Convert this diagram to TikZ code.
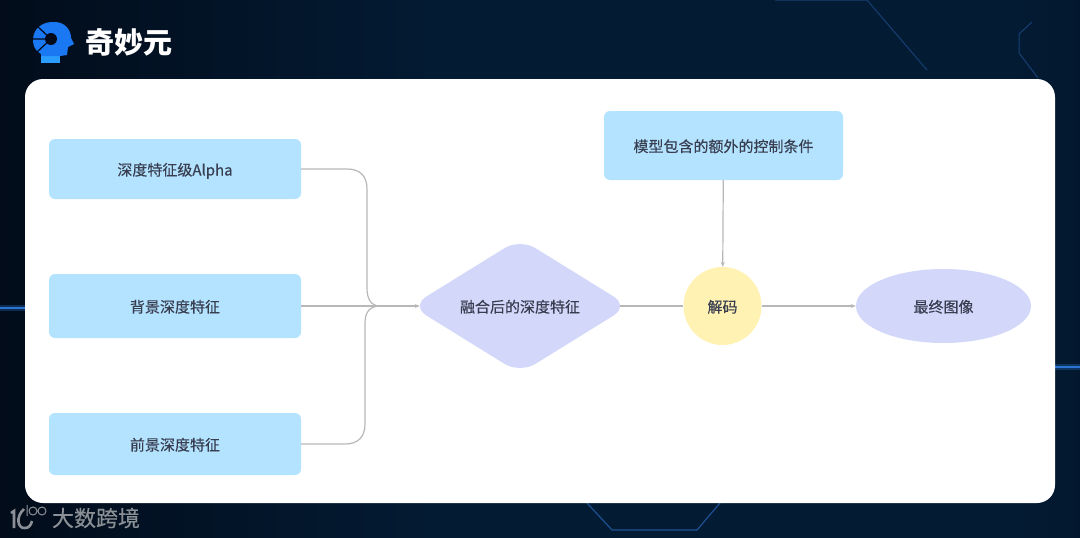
\documentclass[tikz,border=0pt]{standalone}
\usepackage{fontspec}
\setmainfont{Noto Sans CJK SC}
\newfontfamily\labelfont[FakeBold=0.35]{Noto Sans CJK SC}
\usepackage{xcolor}
\usetikzlibrary{shapes.geometric, arrows.meta, positioning}
\definecolor{boxblue}{HTML}{B3E3FF}
\definecolor{lilac}{HTML}{D3D7FA}
\definecolor{butter}{HTML}{FFF2B3}
\definecolor{inktext}{HTML}{383E50}
\definecolor{linegray}{HTML}{B8B8B8}
\definecolor{glowblue}{HTML}{2A74D2}
\definecolor{logoblue}{HTML}{1A78F2}
\definecolor{neckblue}{HTML}{2A9DFF}
\definecolor{logodark}{HTML}{02091A}
\definecolor{markgray}{HTML}{8B9096}
\pgfdeclarehorizontalshading{nightsky}{100bp}{rgb(0bp)=(0.006,0.03,0.07); rgb(22bp)=(0.006,0.04,0.09); rgb(45bp)=(0.012,0.105,0.2); rgb(72bp)=(0.012,0.105,0.2); rgb(92bp)=(0.006,0.04,0.08); rgb(100bp)=(0.004,0.025,0.05)}
\tikzstyle{block} = [rectangle, rounded corners=6pt, minimum width=252pt, text centered, fill=boxblue, text=inktext, text height=14pt, text depth=1pt, font=\fontsize{15}{18}\labelfont]
\tikzstyle{shapetext} = [inner sep=0pt, text=inktext, text height=14pt, text depth=1pt, font=\fontsize{15}{18}\labelfont]
\tikzstyle{link} = [linegray, line width=1.2pt]
\tikzstyle{arrow} = [link,-{Stealth[length=5pt,width=4pt]}]
\tikzstyle{glowline} = [glowblue, line width=1.5pt, preaction={draw, glowblue, opacity=0.3, line width=6pt}]
\tikzstyle{faintline} = [glowblue!55!black, line width=1pt]

\begin{document}
\begin{tikzpicture}[x=1pt, y=-1pt]
    \useasboundingbox (0,0) rectangle (1080,538);
    \shade [shading=nightsky] (0,0) rectangle (1080,538);

    % background lines
    \draw [glowline] (0,308) -- (25,308);
    \draw [glowline] (1055,367) -- (1080,367);
    \draw [glowblue!70!black, line width=1.2pt] (587,503) -- (612,530) -- (697,530) -- (720,503);
    \draw [faintline] (775,0) -- (867,0) -- (927,70);
    \draw [faintline] (1032,22) -- (1019,34) -- (1019,53) -- (1038,78);

    % logo and title
    \fill [neckblue] (41,52) rectangle (60,63);
    \fill [logoblue] (41,56) -- (41,54) .. controls (28,48) and (30,23) .. (52,22)
        .. controls (65,21) and (71,30) .. (71,38) -- (74,44) -- (68,47) -- (67,55) -- (60,56) -- cycle;
    \fill [logodark] (51,39) circle (6pt);
    \draw [logodark, line width=1.2pt] (31,39) -- (51,39) (37,26) -- (51,39) (37,52) -- (51,39);
    \node (title) [inner sep=0pt, text=white, font=\fontsize{29}{32}\bfseries\selectfont] at (128.5,42) {奇妙元};

    % card
    \fill [white, rounded corners=18pt] (25,79) rectangle (1055,503);

    \node (alpha) [block, minimum height=60pt] at (175,169) {深度特征级Alpha};
    \node (back) [block, minimum height=64pt] at (175,306) {背景深度特征};
    \node (fore) [block, minimum height=62pt] at (175,444) {前景深度特征};
    \node (extra) [block, minimum width=239pt, minimum height=69pt] at (723.5,145.5) {模型包含的额外的控制条件};
    \node (fused) [diamond, shapetext, fill=lilac, rounded corners=18pt, minimum width=218pt, minimum height=132pt] at (520,306) {融合后的深度特征};
    \node (decode) [circle, shapetext, fill=butter, minimum size=78pt] at (722.5,306) {解码};
    \node (final) [ellipse, shapetext, fill=lilac, minimum width=175pt, minimum height=74pt] at (943.5,306) {最终图像};
    \coordinate (merge) at (380,306);

    \draw [link] (alpha.east) -- (347,169) .. controls (360,169) and (367,176) .. (367,189) -- (367,288) .. controls (367,299) and (371,306) .. (merge);
    \draw [link] (fore.east) -- (345,444) .. controls (358,444) and (365,437) .. (365,424) -- (365,323) .. controls (365,312) and (370,306) .. (merge);
    \draw [arrow, shorten >=-9pt] (back) -- (fused);
    \draw [link, shorten <=-9pt] (fused) -- (decode);
    \draw [arrow] (extra) -- (decode);
    \draw [arrow] (decode) -- (final);

    % watermark
    \draw [markgray, line width=2.6pt] (11,513) -- (14,511) -- (14,528);
    \draw [markgray, line width=2.6pt] (24,509) .. controls (15,517) and (18,529) .. (25,528) .. controls (29,528) and (31,525) .. (32,521);
    \draw [markgray, line width=1pt] (27,505) -- (27,516) (33,511) circle (4pt) (42,511) circle (4pt);
    \node (mark) [inner sep=0pt, text=markgray, font=\fontsize{22}{24}\labelfont] at (96,518) {大数跨境};
\end{tikzpicture}
\end{document}
